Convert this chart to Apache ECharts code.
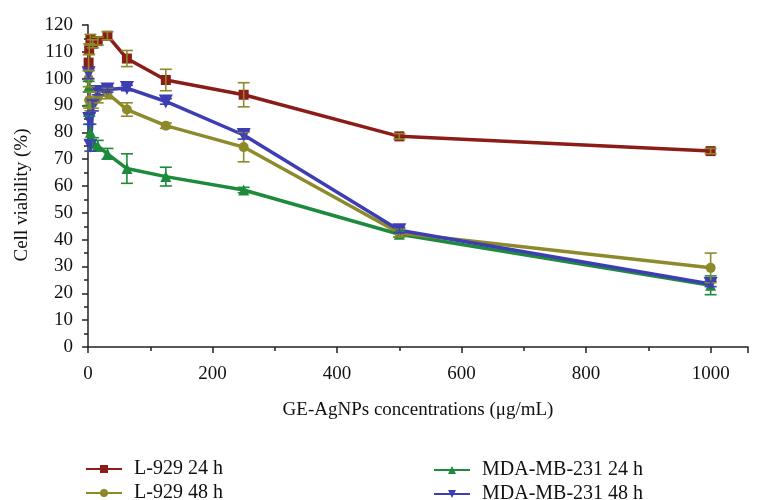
<!DOCTYPE html>
<html>
<head>
<meta charset="utf-8">
<script src="https://cdn.jsdelivr.net/npm/echarts@6/dist/echarts.min.js"></script>
<style>
  html, body { margin: 0; padding: 0; background: #fff; }
  #chart { width: 765px; height: 500px; }
</style>
</head>
<body>
<div id="chart"></div>
<script>
// 浓度 (ug/mL)
var conc = [0.98, 1.95, 3.9, 7.8, 15.6, 31.25, 62.5, 125, 250, 500, 1000];
// 各组细胞存活率 + 误差
var l929_24 = [106, 111, 114.5, 113, 114, 116, 107.5, 99.5, 94, 78.5, 73];
var l929_24Err = [3, 2, 2, 1.5, 1.5, 1.5, 3, 4, 4.5, 1, 1];
var l929_48 = [100, 92, 90, 91, 93, 94.5, 88.5, 82.5, 74.5, 42.5, 29.5];
var l929_48Err = [3, 3, 2, 2, 2, 2, 2.5, 1, 5.5, 1.5, 5.5];
var mda_24 = [97, 88, 80, 76, 75, 72, 66.5, 63.5, 58.5, 42, 23];
var mda_24Err = [2, 2, 3, 2, 2, 2, 5.5, 3.5, 1, 1, 3.5];
var mda_48 = [102, 85, 75, 90, 95, 96, 96.5, 91.5, 79, 43.5, 23.5];
var mda_48Err = [2, 2, 2, 2, 1, 1, 1, 1, 1.5, 1, 1];
var names = ['L-929 24 h', 'L-929 48 h', 'MDA-MB-231 24 h', 'MDA-MB-231 48 h'];

var FONT = '"Liberation Serif", "DejaVu Serif", serif';
var RED = '#8b1c18', OLIVE = '#8d8a2c', GREEN = '#1d8b3b', BLUE = '#3d3eb4';

function pairs(ys) {
    return conc.map(function (c, i) { return [c, ys[i]]; });
}
function errData(ys, es) {
    return conc.map(function (c, i) { return [c, ys[i] - es[i], ys[i] + es[i]]; });
}
// 误差棒
function errSeries(ys, es, color) {
    return {
        type: 'custom',
        silent: true,
        z: 3,
        data: errData(ys, es),
        encode: { x: 0, y: [1, 2] },
        renderItem: function (params, api) {
            var lo = api.coord([api.value(0), api.value(1)]);
            var hi = api.coord([api.value(0), api.value(2)]);
            var w = 6;
            var st = { stroke: color, lineWidth: 1.6, fill: null };
            return {
                type: 'group',
                children: [
                    { type: 'line', shape: { x1: lo[0], y1: lo[1], x2: hi[0], y2: hi[1] }, style: st },
                    { type: 'line', shape: { x1: lo[0] - w, y1: lo[1], x2: lo[0] + w, y2: lo[1] }, style: st },
                    { type: 'line', shape: { x1: hi[0] - w, y1: hi[1], x2: hi[0] + w, y2: hi[1] }, style: st }
                ]
            };
        }
    };
}
function lineSeries(name, ys, color, symbol, size, rot) {
    return {
        name: name,
        type: 'line',
        data: pairs(ys),
        symbol: symbol,
        symbolSize: size,
        symbolRotate: rot || 0,
        showAllSymbol: true,
        z: 2,
        lineStyle: { color: color, width: 3.5 },
        itemStyle: { color: color, borderWidth: 0 },
        emphasis: { disabled: true }
    };
}
// 图例: 每项单独放置
function legendItem(name, left, top) {
    return {
        data: [name],
        left: left, top: top,
        itemWidth: 36, itemHeight: 10,
        textStyle: { fontFamily: FONT, fontSize: 20, color: '#111', padding: [0, 0, 0, 7] }
    };
}

var chart = echarts.init(document.getElementById('chart'));
var axisText = { fontFamily: FONT, fontSize: 19, color: '#111' };
chart.setOption({
    animation: false,
    grid: { left: 88, right: 17, top: 25, bottom: 153, containLabel: false },
    xAxis: {
        type: 'value', min: 0, max: 1060, interval: 200,
        name: 'GE-AgNPs concentrations (\u03bcg/mL)',
        nameLocation: 'middle', nameGap: 54,
        nameTextStyle: axisText,
        axisLine: { lineStyle: { color: '#222', width: 1.5 } },
        axisTick: { length: 6, lineStyle: { color: '#222', width: 1.5 } },
        minorTick: { show: true, splitNumber: 2, length: 4, lineStyle: { color: '#222', width: 1.5 } },
        axisLabel: Object.assign({ margin: 18 }, axisText, {
            formatter: function (v) { return v > 1000 ? '' : v; }
        }),
        splitLine: { show: false }
    },
    yAxis: {
        type: 'value', min: 0, max: 120, interval: 10,
        name: 'Cell viability (%)',
        nameLocation: 'middle', nameGap: 56,
        nameTextStyle: Object.assign({ padding: [0, 0, 0, -18] }, axisText),
        axisLine: { show: true, lineStyle: { color: '#222', width: 1.5 } },
        axisTick: { show: true, length: 6, lineStyle: { color: '#222', width: 1.5 } },
        minorTick: { show: true, splitNumber: 2, length: 4, lineStyle: { color: '#222', width: 1.5 } },
        axisLabel: Object.assign({ margin: 15 }, axisText),
        splitLine: { show: false }
    },
    legend: [
        legendItem(names[0], 80, 454),
        legendItem(names[1], 80, 478),
        legendItem(names[2], 428, 455),
        legendItem(names[3], 428, 479)
    ],
    series: [
        lineSeries(names[2], mda_24, GREEN, 'triangle', 11),
        lineSeries(names[1], l929_48, OLIVE, 'circle', 10),
        lineSeries(names[3], mda_48, BLUE, 'triangle', 14, 180),
        lineSeries(names[0], l929_24, RED, 'rect', 10),
        errSeries(mda_24, mda_24Err, GREEN),
        errSeries(l929_48, l929_48Err, OLIVE),
        errSeries(mda_48, mda_48Err, BLUE),
        errSeries(l929_24, l929_24Err, OLIVE)
    ]
});
</script>
</body>
</html>
